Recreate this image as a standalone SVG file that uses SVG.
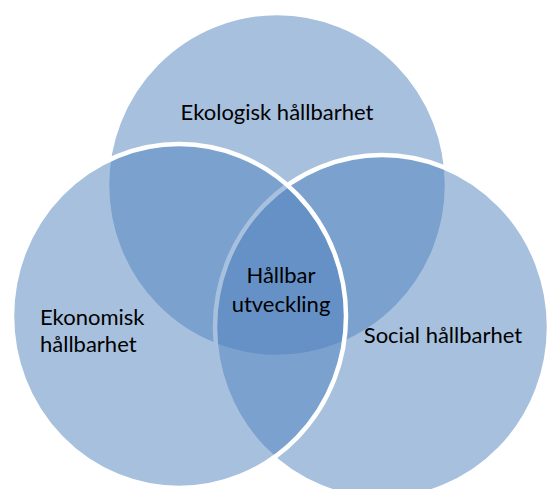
<svg xmlns="http://www.w3.org/2000/svg" width="549" height="489" viewBox="0 0 549 489">
  <style>
    .c { fill: #4F81BD; fill-opacity: 0.5; stroke: #FFFFFF; stroke-width: 4.5; }
    .t { font-family: Lato, "Open Sans", "Liberation Sans", sans-serif; font-size: 22px; fill: #000000; }
    .m { text-anchor: middle; }
  </style>
  <rect width="549" height="489" fill="#FFFFFF"/>
  <g id="ekologisk">
    <ellipse class="c" cx="277" cy="185" rx="170" ry="172"/>
  </g>
  <g id="social">
    <ellipse class="c" cx="382" cy="327" rx="167" ry="172"/>
  </g>
  <g id="ekonomisk">
    <ellipse class="c" cx="179" cy="316" rx="167" ry="172"/>
  </g>
  <g id="labels">
    <text class="t m" x="277" y="120">Ekologisk hållbarhet</text>
    <text class="t" x="40" y="325">Ekonomisk</text>
    <text class="t" x="40" y="352">hållbarhet</text>
    <text class="t m" x="443" y="343">Social hållbarhet</text>
    <text class="t m" x="281" y="283">Hållbar</text>
    <text class="t m" x="281" y="312">utveckling</text>
  </g>
  <g id="connectors"/>
</svg>
